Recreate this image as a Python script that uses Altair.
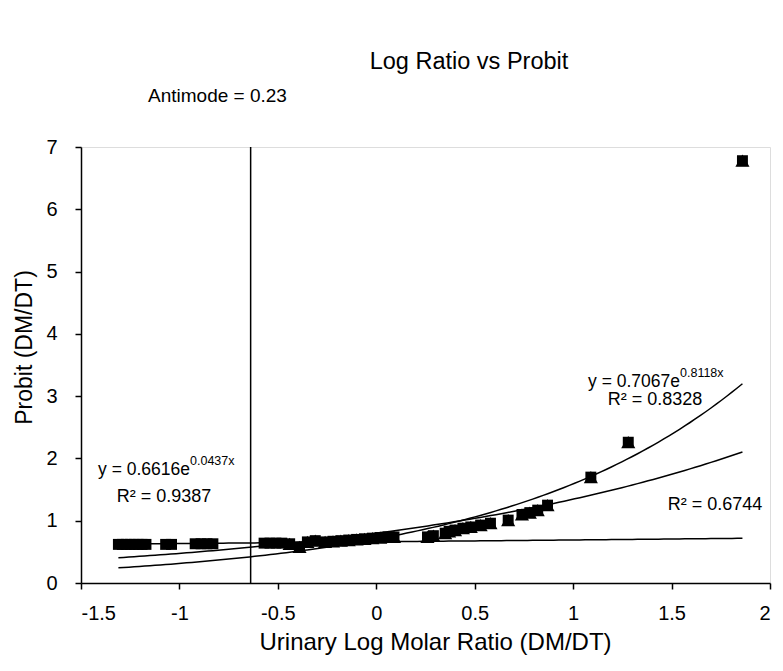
import altair as alt
import numpy as np
import pandas as pd

# ---- data ----
left_x = [-1.31, -1.29, -1.27, -1.25, -1.23, -1.21, -1.19, -1.17, -1.07, -1.04,
          -0.92, -0.89, -0.86, -0.83, -0.57, -0.54, -0.51, -0.48]
left_y = [0.62, 0.62, 0.62, 0.62, 0.62, 0.62, 0.62, 0.62, 0.62, 0.62,
          0.63, 0.63, 0.63, 0.63, 0.64, 0.64, 0.64, 0.64]
right_x = [-0.44, -0.39, -0.35, -0.31, -0.26, -0.22, -0.18, -0.14, -0.10, -0.06,
           -0.02, 0.02, 0.06, 0.09, 0.26, 0.29, 0.35, 0.37, 0.40, 0.44, 0.48,
           0.53, 0.58, 0.67, 0.74, 0.78, 0.82, 0.87, 1.09, 1.28, 1.86]
right_y = [0.63, 0.58, 0.66, 0.68, 0.66, 0.67, 0.68, 0.69, 0.70, 0.71,
           0.72, 0.73, 0.74, 0.74, 0.74, 0.76, 0.80, 0.83, 0.85, 0.88, 0.90,
           0.93, 0.96, 1.01, 1.10, 1.13, 1.17, 1.25, 1.70, 2.26, 6.78]

# exponential trendlines y = a * exp(b x)
fit_names = ["fit_left", "fit_right", "fit_all"]
fit_a = [0.6616, 0.7067, 0.80]
fit_b = [0.0437, 0.8118, 0.52]

antimode = 0.23
x_ticks = [-1.5, -1, -0.5, 0, 0.5, 1, 1.5, 2]
y_ticks = [0, 1, 2, 3, 4, 5, 6, 7]

# ---- tables ----
all_pts = pd.DataFrame({"x": left_x + right_x, "y": left_y + right_y})
tri_pts = pd.DataFrame({"x": right_x, "y": right_y})

xmin, xmax = min(left_x + right_x), max(left_x + right_x)
xs = np.linspace(xmin, xmax, 120)
curves = pd.concat([
    pd.DataFrame({"x": xs, "y": a * np.exp(b * xs), "fit": n})
    for n, a, b in zip(fit_names, fit_a, fit_b)
])
vline = pd.DataFrame({"x": [np.log10(antimode)], "y": [0], "y2": [7]})

FONT = "Liberation Sans"
W, H = 689, 436
X0, Y0 = 81, 147   # page position of the plot origin

xscale = alt.Scale(domain=[-1.5, 2], nice=False, zero=False)
yscale = alt.Scale(domain=[0, 7], nice=False)

xaxis = alt.Axis(values=x_ticks, labelExpr="'' + datum.value", grid=False,
                 tickSize=6, tickColor="black", domainColor="black", domainWidth=1.5,
                 tickWidth=1.5, labelFont=FONT, labelFontSize=20, labelColor="black",
                 labelPadding=14, title="Urinary Log Molar Ratio (DM/DT)",
                 titleFont=FONT, titleFontSize=24, titleFontWeight="normal",
                 titleColor="black", titlePadding=7, titleX=354)
yaxis = alt.Axis(values=y_ticks, labelExpr="'' + datum.value", grid=False,
                 tickSize=6, tickColor="black",
                 domainColor="black", domainWidth=1.5, tickWidth=1.5,
                 labelFont=FONT, labelFontSize=20, labelColor="black", labelPadding=18,
                 title="Probit (DM/DT)", titleFont=FONT, titleFontSize=23,
                 titleFontWeight="normal", titleColor="black", titleY=200, titleX=-57,
                 titleBaseline="middle")

base_x = alt.X("x:Q", scale=xscale, axis=xaxis)
base_y = alt.Y("y:Q", scale=yscale, axis=yaxis)

lines = alt.Chart(curves).mark_line(color="black", strokeWidth=1.5).encode(
    x=base_x, y=base_y, detail="fit:N")

rule = alt.Chart(vline).mark_rule(color="black", strokeWidth=1.5).encode(
    x="x:Q", y="y:Q", y2="y2:Q")

squares = alt.Chart(all_pts).mark_point(shape="square", filled=True, color="black",
                                        opacity=1, size=120).encode(x="x:Q", y="y:Q")
tris = alt.Chart(tri_pts).mark_point(shape="triangle-up", filled=True, color="black",
                                     opacity=1, size=200).encode(x="x:Q", y="y:Q")


def label(txt, px, py, size, align="left", baseline="middle"):
    return alt.Chart(pd.DataFrame({"t": [txt]})).mark_text(
        font=FONT, fontSize=size, color="black", align=align, baseline=baseline
    ).encode(x=alt.value(px - X0), y=alt.value(py - Y0), text="t:N")


texts = [
    label("Log Ratio vs Probit", 469, 62, 23.5, align="center"),
    label("Antimode = 0.23", 148, 96, 19),
    label("y = 0.6616e", 190, 470, 17.5, align="right"),
    label("0.0437x", 190, 461, 12.5),
    label("R\u00b2 = 0.9387", 164, 497, 18, align="center"),
    label("y = 0.7067e", 680, 382, 17.5, align="right"),
    label("0.8118x", 680, 373, 12.5),
    label("R\u00b2 = 0.8328", 655, 400, 18, align="center"),
    label("R\u00b2 = 0.6744", 715, 505, 18, align="center"),
]

chart = alt.layer(lines, rule, squares, tris, *texts).properties(
    width=W, height=H,
    autosize=alt.AutoSizeParams(type="none"),
    padding={"left": X0 - 8, "top": Y0 - 8, "right": 5, "bottom": 78},
).configure_view(stroke=None).configure(background="white")

chart.save("out.html", embed_options={"renderer": "svg", "actions": False})
